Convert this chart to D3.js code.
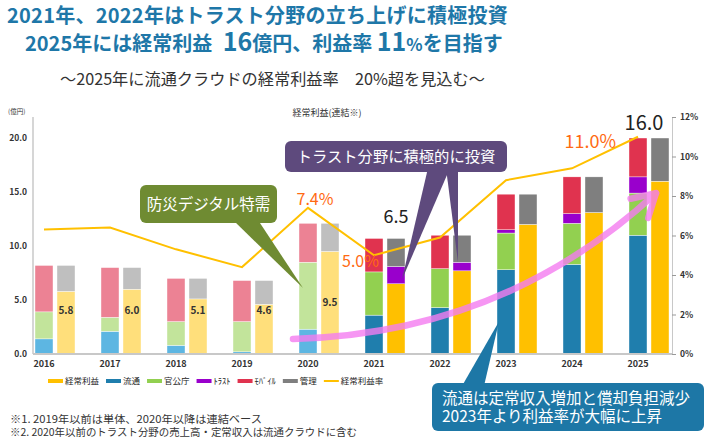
<!DOCTYPE html>
<html>
<head>
<meta charset="utf-8">
<script src="https://d3js.org/d3.v7.min.js"></script>
<style>
  body { margin: 0; background: #fff; }
  svg text { font-family: "Noto Sans CJK JP", "Noto Sans", sans-serif; }
</style>
</head>
<body>
<div id="chart"></div>
<script>
// data (億円 / %)
var years = ["2016", "2017", "2018", "2019", "2020", "2021", "2022", "2023", "2024", "2025"];
var ryutsu   = [1.4, 2.1, 0.8, 0.2, 2.3, 3.6, 4.3, 7.8, 8.3, 11.0];
var kankocho = [2.5, 1.3, 2.2, 2.8, 6.2, 4.0, 3.6, 3.4, 3.8, 3.9];
var trust    = [0, 0, 0, 0, 0, 0, 0, 0.3, 0.9, 1.5];
var mobile   = [4.3, 4.6, 4.0, 3.8, 3.6, 3.1, 3.1, 3.3, 3.4, 3.6];
var profit   = [5.8, 6.0, 5.1, 4.6, 9.5, 6.5, 7.7, 12.0, 13.1, 16.0];
var trustInv = [0, 0, 0, 0, 0, 1.6, 0.8, 0, 0, 0];
var kanri    = [2.4, 2.0, 1.9, 2.2, 2.6, 2.6, 2.5, 2.8, 3.3, 4.0];
var rate     = [6.3, 6.4, 5.3, 4.4, 7.4, 5.0, 5.9, 8.8, 9.4, 11.0];
var leftTicks  = [0, 5, 10, 15, 20];
var rightTicks = [0, 2, 4, 6, 8, 10, 12];
var legendLabels = ["経常利益", "流通", "官公庁", "ﾄﾗｽﾄ", "ﾓﾊﾞｲﾙ", "管理", "経常利益率"];
var legendKeys   = ["profit", "ryutsu", "kankocho", "trust", "mobile", "kanri", "rate"];

var colorFull = {ryutsu: "#1f7ead", kankocho: "#92d050", trust: "#9900cc", mobile: "#e0334f",
                 profit: "#ffc000", trustInv: "#9900cc", kanri: "#7f7f7f", rate: "#ffc000"};
var colorPale = {ryutsu: "#5db6e2", kankocho: "#c2e49b", trust: "#c890e0", mobile: "#ec8294",
                 profit: "#ffdf7b", trustInv: "#c890e0", kanri: "#bfbfbf"};

var rows = years.map(function (yr, i) {
  return {year: yr, ryutsu: ryutsu[i], kankocho: kankocho[i], trust: trust[i], mobile: mobile[i],
          profit: profit[i], trustInv: trustInv[i], kanri: kanri[i], rate: rate[i]};
});

var svg = d3.select("#chart").append("svg")
  .attr("width", 710)
  .attr("height", 440);

// titles
var blue = "#1e77a8";
svg.append("text").attr("x", 7).attr("y", 22.5)
  .attr("font-size", 20).attr("font-weight", "bold").attr("fill", blue)
  .attr("letter-spacing", 0.25)
  .text("2021年、2022年はトラスト分野の立ち上げに積極投資");

var t2 = svg.append("text").attr("x", 25).attr("y", 51)
  .attr("font-weight", "bold").attr("fill", blue).attr("font-size", 20);
t2.append("tspan").text("2025年には経常利益 ");
t2.append("tspan").attr("font-size", 25).attr("dx", 6).text("16");
t2.append("tspan").text("億円、利益率 ");
t2.append("tspan").attr("font-size", 25).text("11");
t2.append("tspan").attr("font-size", 17).text("%");
t2.append("tspan").text("を目指す");

svg.append("text").attr("x", 60).attr("y", 85)
  .attr("font-size", 16.2).attr("fill", "#333")
  .text("～2025年に流通クラウドの経常利益率　20%超を見込む～");

svg.append("text").attr("x", 8).attr("y", 114)
  .attr("font-size", 6.5).attr("fill", "#333").text("(億円)");
svg.append("text").attr("x", 327).attr("y", 116).attr("text-anchor", "middle")
  .attr("font-size", 9).attr("fill", "#333").text("経常利益(連結※)");

// scales
var x = d3.scaleBand().domain(years).range([35, 669]).paddingInner(26 / 66).paddingOuter(0);
var xIn = d3.scaleBand().domain(["seg", "profit"]).range([0, x.bandwidth()]).paddingInner(4 / 22);
var y = d3.scaleLinear().domain([0, 20]).range([354, 138]);
var yR = d3.scaleLinear().domain([0, 12]).range([354, 117]);

function isPale(yr) { return +yr <= 2020; }

// left axis
svg.append("line").attr("x1", 33).attr("x2", 33).attr("y1", y(0)).attr("y2", yR(12))
  .attr("stroke", "#c8c8c8").attr("stroke-width", 1.5);
var gl = svg.append("g").attr("transform", "translate(33,0)")
  .call(d3.axisLeft(y).tickValues(leftTicks).tickFormat(d3.format(".1f")).tickSize(0).tickPadding(6));
gl.select(".domain").remove();
gl.selectAll("text").attr("font-size", 8.5).attr("font-weight", "bold").attr("fill", "#333");

// right axis
var gr = svg.append("g").attr("transform", "translate(672,0)")
  .call(d3.axisRight(yR).tickValues(rightTicks).tickFormat(function (d) { return d + "%"; })
    .tickSize(4).tickSizeOuter(0).tickPadding(4));
gr.select(".domain").attr("stroke", "#c8c8c8");
gr.selectAll(".tick line").attr("stroke", "#999");
gr.selectAll("text").attr("font-size", 8.5).attr("font-weight", "bold").attr("fill", "#333");

// stacked bars
var leftKeys = ["ryutsu", "kankocho", "trust", "mobile"];
var rightKeys = ["profit", "trustInv", "kanri"];

function drawStack(keys, sub) {
  var series = d3.stack().keys(keys)(rows);
  svg.append("g").selectAll("g")
    .data(series)
    .enter().append("g")
    .selectAll("rect")
    .data(function (s) { return s.map(function (d) { return {key: s.key, d: d}; }); })
    .enter().append("rect")
      .attr("x", function (o) { return x(o.d.data.year) + xIn(sub); })
      .attr("width", xIn.bandwidth())
      .attr("y", function (o) { return y(o.d[1]); })
      .attr("height", function (o) { return y(o.d[0]) - y(o.d[1]); })
      .attr("fill", function (o) { return isPale(o.d.data.year) ? colorPale[o.key] : colorFull[o.key]; })
      .attr("stroke", "#fff").attr("stroke-width", 0.4);
}
drawStack(leftKeys, "seg");
drawStack(rightKeys, "profit");

// baseline and year labels
svg.append("line").attr("x1", 33).attr("x2", 672).attr("y1", y(0)).attr("y2", y(0))
  .attr("stroke", "#c8c8c8").attr("stroke-width", 2);
svg.append("g").selectAll("text")
  .data(years)
  .enter().append("text")
    .attr("x", function (d) { return x(d) + xIn("seg") + xIn.bandwidth() / 2; })
    .attr("y", 367)
    .attr("text-anchor", "middle")
    .attr("font-size", 9).attr("font-weight", "bold").attr("fill", "#333")
    .text(function (d) { return d; });

// profit labels inside the pale bars
svg.append("g").selectAll("text")
  .data(rows.filter(function (r) { return isPale(r.year); }))
  .enter().append("text")
    .attr("x", function (r) { return x(r.year) + xIn("profit") + xIn.bandwidth() / 2; })
    .attr("y", function (r) { return Math.min(y(4), y(r.profit / 2)); })
    .attr("dy", "0.35em")
    .attr("text-anchor", "middle")
    .attr("font-size", 10).attr("font-weight", "bold").attr("fill", "#333")
    .text(function (r) { return r.profit.toFixed(1); });

// profit rate line
function lineX(yr) { return x(yr) + xIn("seg") + xIn.bandwidth() / 2; }
svg.append("path")
  .datum(rows)
  .attr("fill", "none")
  .attr("stroke", colorFull.rate)
  .attr("stroke-width", 2)
  .attr("d", d3.line()
    .x(function (d) { return lineX(d.year); })
    .y(function (d) { return yR(d.rate); }));

// value callouts
var orange = "#ff6a13";
svg.append("text").attr("x", lineX("2020") + 7).attr("y", yR(rate[4]) - 3)
  .attr("text-anchor", "middle").attr("font-size", 16).attr("fill", orange).text("7.4%");
svg.append("text").attr("x", lineX("2021") + 5).attr("y", yR(rate[5]) + 12)
  .attr("text-anchor", "end").attr("font-size", 16).attr("fill", orange).text("5.0%");
svg.append("text").attr("x", lineX("2025") - 22).attr("y", yR(rate[9]) + 11)
  .attr("text-anchor", "end").attr("font-size", 18).attr("fill", orange).text("11.0%");
svg.append("text").attr("x", x("2021") + xIn("profit") + 9).attr("y", y(profit[5] + trustInv[5] + kanri[5]) - 15)
  .attr("text-anchor", "middle").attr("font-size", 18).attr("fill", "#222").text("6.5");
svg.append("text").attr("x", x("2025") + 15).attr("y", y(20) - 8)
  .attr("text-anchor", "middle").attr("font-size", 20).attr("fill", "#222").text("16.0");

// pink growth arrow
var p0 = [x("2020") - 6, y(1.4)];
var pc = [x("2023") + 6, y(1.85)];
var p1 = [x("2025") + xIn("profit") + 5, y(14.9)];
var pink = svg.append("g").attr("opacity", 0.8)
  .attr("stroke", "#f47cf0").attr("stroke-width", 6.5).attr("fill", "none")
  .attr("stroke-linecap", "round").attr("stroke-linejoin", "round");
pink.append("path").attr("d", "M" + p0 + "Q" + pc + " " + p1);
var dx = p1[0] - pc[0], dy = p1[1] - pc[1], len = Math.sqrt(dx * dx + dy * dy);
var bx = -dx / len, by = -dy / len;
function arm(a) {
  var c = Math.cos(a), s = Math.sin(a);
  return [p1[0] + 26 * (bx * c - by * s), p1[1] + 26 * (bx * s + by * c)];
}
pink.append("path").attr("d", "M" + arm(Math.PI / 6) + "L" + p1 + "L" + arm(-Math.PI / 6));

// speech-bubble notes
function bubble(box, tips, fill, lines, size) {
  var g = svg.append("g");
  tips.forEach(function (t) {
    g.append("path").attr("fill", fill)
      .attr("d", "M" + t.base[0] + "L" + t.tip + "L" + t.base[1] + "Z");
  });
  g.append("rect").attr("x", box[0]).attr("y", box[1]).attr("width", box[2]).attr("height", box[3])
    .attr("rx", 6).attr("fill", fill);
  lines.forEach(function (ln, i) {
    g.append("text")
      .attr("x", ln.anchor == "middle" ? box[0] + box[2] / 2 : box[0] + 10)
      .attr("y", ln.y)
      .attr("text-anchor", ln.anchor)
      .attr("font-size", size).attr("fill", "#fff")
      .text(ln.text);
  });
}

bubble([140, 185, 137, 38],
  [{base: [[233, 220], [258, 220]], tip: [x("2020") + 4, y(6.1)]}],
  "#6f8b32", [{text: "防災デジタル特需", y: 210, anchor: "middle"}], 15.5);

bubble([285, 141, 222, 31],
  [{base: [[428, 168], [450, 168]], tip: [x("2021") + xIn("profit") + 15, y(profit[5] + 0.4)]},
   {base: [[446, 168], [458, 168]], tip: [x("2022") + xIn("profit") + 5, y(8.5)]}],
  "#5e4a7d", [{text: "トラスト分野に積極的に投資", y: 162, anchor: "middle"}], 15.3);

bubble([432, 383, 272, 48],
  [{base: [[462, 386], [484, 386]], tip: [x("2023") + xIn("seg") + 2, y(3.0)]}],
  "#1d77a6",
  [{text: "流通は定常収入増加と償却負担減少", y: 404, anchor: "start"},
   {text: "2023年より利益率が大幅に上昇", y: 422, anchor: "start"}], 15.5);

// legend
var lg = svg.append("g").attr("transform", "translate(48,381)");
var lx = 0;
legendKeys.forEach(function (k, i) {
  lg.append("line").attr("x1", lx).attr("x2", lx + 15).attr("y1", 0).attr("y2", 0)
    .attr("stroke", colorFull[k]).attr("stroke-width", k == "rate" ? 2 : 4);
  var t = lg.append("text").attr("x", lx + 17).attr("y", 0).attr("dy", "0.35em")
    .attr("font-size", 8.5).attr("fill", "#222").text(legendLabels[i]);
  lx += 17 + t.node().getComputedTextLength() + 7;
});

// footnotes
svg.append("text").attr("x", 10).attr("y", 423).attr("font-size", 10.3).attr("fill", "#333")
  .attr("textLength", 252).attr("lengthAdjust", "spacingAndGlyphs")
  .text("※1. 2019年以前は単体、2020年以降は連結ベース");
svg.append("text").attr("x", 10).attr("y", 435.5).attr("font-size", 10.3).attr("fill", "#333")
  .attr("textLength", 347).attr("lengthAdjust", "spacingAndGlyphs")
  .text("※2. 2020年以前のトラスト分野の売上高・定常収入は流通クラウドに含む");
</script>
</body>
</html>
